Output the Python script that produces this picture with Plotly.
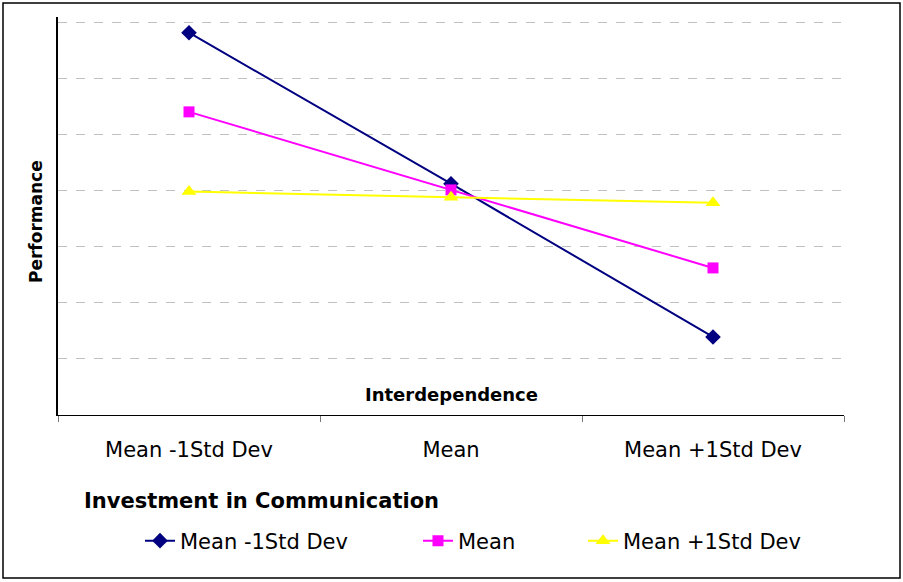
import plotly.graph_objects as go

categories = ["Mean -1Std Dev", "Mean", "Mean +1Std Dev"]
series_names = ["Mean -1Std Dev", "Mean", "Mean +1Std Dev"]
low_comm = [6.81, 4.12, 1.39]
mean_comm = [5.40, 4.01, 2.62]
high_comm = [3.98, 3.88, 3.78]

colors = ["#000080", "#FF00FF", "#FFFF00"]
symbols = ["diamond", "square", "triangle-up"]
sizes = [12, 11, 13]
values = [low_comm, mean_comm, high_comm]
legend_ids = ["legend", "legend2", "legend3"]
legend_text_x = [180, 458, 623]

W, H = 903, 582
ML, MR, MT, MB = 58, 59, 17, 167
PW, PH = W - ML - MR, H - MT - MB

fig = go.Figure()
for name, vals, c, s, sz, lg in zip(series_names, values, colors, symbols, sizes, legend_ids):
    fig.add_trace(go.Scatter(
        x=categories, y=vals, name=name, mode="lines+markers",
        line=dict(color=c, width=2),
        marker=dict(symbol=s, size=sz, color=c),
        legend=lg,
    ))

def px_x(p):
    return (p - ML) / PW

def px_y(p):
    return (H - MB - p) / PH

legend_layout = {}
for lg, tx in zip(legend_ids, legend_text_x):
    legend_layout[lg] = dict(
        orientation="h", x=px_x(tx - 40), y=px_y(541), xanchor="left", yanchor="middle",
        font=dict(size=21, family="DejaVu Sans"), bgcolor="rgba(0,0,0,0)",
        itemwidth=30,
    )

fig.update_layout(
    width=W, height=H,
    margin=dict(l=ML, r=MR, t=MT, b=MB),
    paper_bgcolor="white", plot_bgcolor="white",
    font=dict(family="DejaVu Sans", color="black"),
    showlegend=True,
    xaxis=dict(
        type="category", range=[-0.5, 2.5], showline=True, linecolor="black", linewidth=1,
        ticks="outside", tickson="boundaries", ticklen=6, tickcolor="#777777",
        tickfont=dict(size=21, family="DejaVu Sans"), ticklabelstandoff=16,
        showgrid=False, zeroline=False,
    ),
    yaxis=dict(
        range=[0, 7.09], showline=True, linecolor="black", linewidth=2,
        showticklabels=False, ticks="", dtick=1, tick0=0,
        showgrid=True, gridcolor="#C0C0C0", griddash="dash", gridwidth=1,
        zeroline=False,
    ),
    annotations=[
        dict(text="<b>Interdependence</b>", x=0.5, y=px_y(394), xref="paper", yref="paper",
             showarrow=False, font=dict(size=18), xanchor="center", yanchor="middle"),
        dict(text="<b>Performance</b>", x=px_x(36), y=px_y(222), xref="paper", yref="paper",
             showarrow=False, textangle=-90, font=dict(size=17), xanchor="center", yanchor="middle"),
        dict(text="<b>Investment in Communication</b>", x=px_x(82), y=px_y(501), xref="paper", yref="paper",
             showarrow=False, font=dict(size=21), xanchor="left", yanchor="middle"),
    ],
    shapes=[
        dict(type="rect", xref="paper", yref="paper", x0=px_x(3), x1=px_x(900), y0=px_y(3), y1=px_y(578),
             line=dict(color="black", width=1.5), fillcolor="rgba(0,0,0,0)", layer="below"),
    ],
    **legend_layout,
)

fig.write_html("out.html", post_script="document.body.style.margin='0';",
               config={"displayModeBar": False})
